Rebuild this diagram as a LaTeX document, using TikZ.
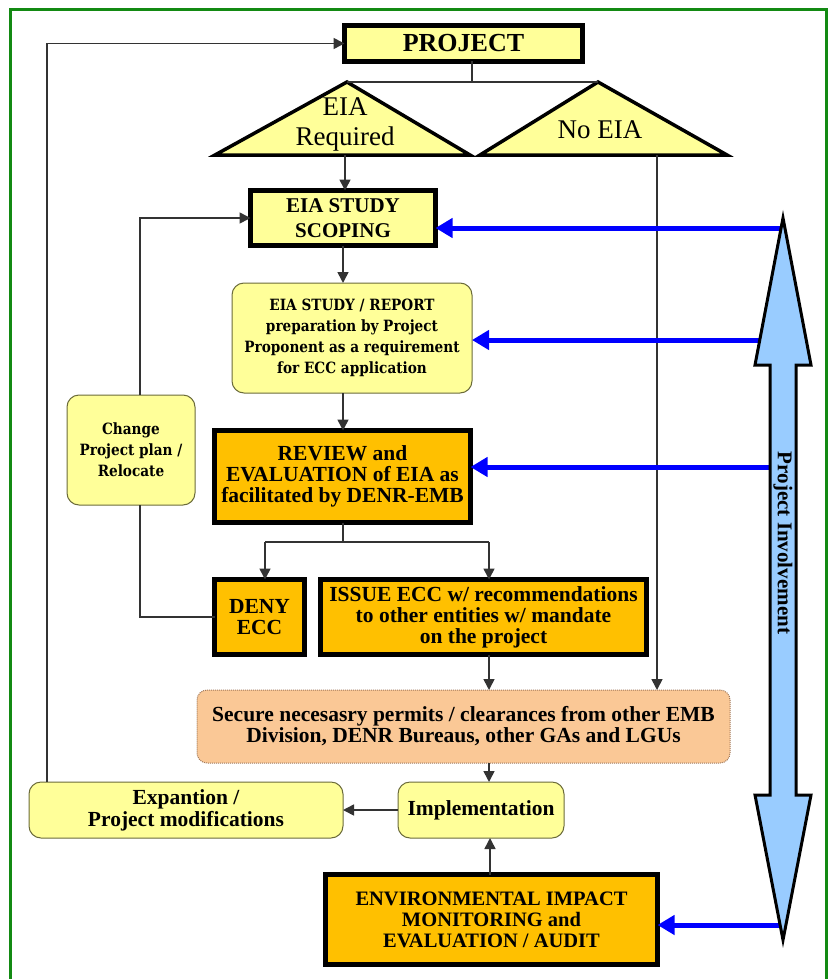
\documentclass[tikz,border=0pt]{standalone}
\usepackage{fontspec}
\setmainfont{Liberation Serif}
\newfontfamily\slab{DejaVu Serif}[FakeStretch=0.88]
\usetikzlibrary{arrows.meta,calc}

\definecolor{paleyellow}{HTML}{FFFF99}
\definecolor{gold}{HTML}{FFC000}
\definecolor{peach}{HTML}{FAC896}
\definecolor{skyblue}{HTML}{99CCFF}
\definecolor{frame}{HTML}{138A13}
\definecolor{wire}{HTML}{333333}
\definecolor{softedge}{HTML}{6B6B3A}
\definecolor{dotedge}{HTML}{A0785A}

\begin{document}
\begin{tikzpicture}[x=1pt,y=-1pt,
  every node/.style={align=center, inner sep=0pt, outer sep=0pt},
  thickbox/.style={draw=black, line width=5pt, fill=paleyellow},
  goldbox/.style={draw=black, line width=5pt, fill=gold},
  softbox/.style={draw=softedge, line width=1pt, rounded corners=12pt, fill=paleyellow},
  dotbox/.style={draw=dotedge, line width=1pt, densely dotted, rounded corners=10pt, fill=peach},
  decision/.style={draw=black, line width=3.5pt, fill=paleyellow, line join=miter},
  bigbold/.style={font=\fontsize{21.5pt}{21pt}\selectfont\bfseries},
  slabtext/.style={font=\slab\fontsize{15.5pt}{21pt}\selectfont\bfseries},
  wireline/.style={draw=wire, line width=1.6pt},
  conn/.style={wireline, -{Triangle[length=11pt,width=11pt]}},
  blueconn/.style={draw=blue, line width=5pt, -{Triangle[length=17pt,width=19pt]}}
]
\useasboundingbox (0,0) rectangle (834,979);

% outer frame
\draw[frame, line width=3pt] (10,990) -- (10,10) -- (826,10) -- (826,990);

% ---- boxes ----
\node[thickbox, minimum width=238pt, minimum height=36pt,
      font=\fontsize{26pt}{26pt}\selectfont\bfseries] (project) at (463.5,43.5) {PROJECT};

\node[thickbox, minimum width=185pt, minimum height=55pt,
      font=\fontsize{21pt}{25pt}\selectfont\bfseries] (scoping) at (343,218) {EIA STUDY\\SCOPING};

\node[softbox, minimum width=240pt, minimum height=110pt, slabtext] (report) at (352,338)
  {EIA STUDY / REPORT\\preparation by Project\\Proponent as a requirement\\for ECC application};

\node[goldbox, minimum width=256pt, minimum height=92pt, bigbold] (review) at (342.5,476.5)
  {REVIEW and\\EVALUATION of EIA as\\facilitated by DENR-EMB};

\node[softbox, minimum width=128pt, minimum height=110pt, slabtext] (change) at (131,450)
  {Change\\Project plan /\\Relocate};

\node[goldbox, minimum width=90pt, minimum height=75pt, bigbold] (deny) at (259.5,617) {DENY\\ECC};

\node[goldbox, minimum width=326pt, minimum height=75pt, bigbold] (issue) at (483.5,617)
  {ISSUE ECC w/ recommendations\\to other entities w/ mandate\\on the project};

\node[dotbox, minimum width=533pt, minimum height=73pt, bigbold] (secure) at (463.5,726.5)
  {Secure necesasry permits / clearances from other EMB\\Division, DENR Bureaus, other GAs and LGUs};

\node[softbox, minimum width=166pt, minimum height=56pt, bigbold] (impl) at (481,810) {Implementation};

\node[softbox, minimum width=314pt, minimum height=56pt,
      font=\fontsize{21.5pt}{22pt}\selectfont\bfseries] (expand) at (186,810)
  {Expantion /\\Project modifications};

\node[goldbox, minimum width=332pt, minimum height=90pt,
      font=\fontsize{20.5pt}{21pt}\selectfont\bfseries] (monitor) at (491.5,919.5)
  {ENVIRONMENTAL IMPACT\\MONITORING and\\EVALUATION / AUDIT};

% ---- decision triangles ----
\coordinate (reqtop) at (347,82);
\coordinate (noeiatop) at (598,82);
\draw[decision] (reqtop) -- (470,155) -- (215,155) -- cycle;
\draw[decision] (noeiatop) -- (727,155) -- (480,155) -- cycle;
\node[font=\fontsize{27pt}{30pt}\selectfont] (reqtext) at (345,124) {EIA\\Required};
\node[font=\fontsize{27pt}{30pt}\selectfont] (noeiatext) at (600,130) {No EIA};
\coordinate (reqbase) at (345,155);
\coordinate (noeiabase) at (657,155);

% ---- connectors ----
\coordinate (split) at (472,82);
\draw[wireline] (project.south -| split) -- (split);
\draw[wireline] (reqtop) -- (noeiatop);
\draw[conn] (reqbase) -- (reqbase |- scoping.north);
\draw[conn] (scoping.south) -- (scoping.south |- report.north);
\draw[conn] (report.south -| scoping.south) -- (scoping.south |- review.north);

\coordinate (fork) at (343,542);
\coordinate (denyx) at (265,542);
\coordinate (issuex) at (489,542);
\draw[wireline] (review.south -| fork) -- (fork);
\draw[wireline] (denyx) -- (issuex);
\draw[conn] (denyx) -- (denyx |- deny.north);
\draw[conn] (issuex) -- (issuex |- issue.north);

\coordinate (loopx) at (140,0);
\draw[wireline] (deny.west) -| (change.south -| loopx);
\draw[conn] (change.north -| loopx) |- (scoping.west);

\draw[conn] (noeiabase) -- (noeiabase |- secure.north);
\draw[conn] (issue.south -| issuex) -- (issuex |- secure.north);
\draw[conn] (secure.south -| issuex) -- (issuex |- impl.north);
\draw[conn] (impl.west) -- (expand.east);
\coordinate (upx) at (490,0);
\draw[conn] (monitor.north -| upx) -- (upx |- impl.south);

\coordinate (backx) at (47,0);
\draw[conn] (expand.north -| backx) |- (project.west);

% ---- project involvement ----
\coordinate (inv1) at (783,228);
\coordinate (inv2) at (762,340);
\coordinate (inv3) at (770,467);
\coordinate (inv4) at (782,925);
\draw[blueconn] (inv1) -- (scoping.east |- inv1);
\draw[blueconn] (inv2) -- (report.east |- inv2);
\draw[blueconn] (inv3) -- (review.east |- inv3);
\draw[blueconn] (inv4) -- (monitor.east |- inv4);

\draw[line width=3pt, fill=skyblue, line join=miter]
  (783,218) -- (811,365) -- (796,365) -- (796,795) -- (811,795) -- (783,940)
  -- (755,795) -- (770,795) -- (770,365) -- (755,365) -- cycle;
\node[rotate=-90, font=\fontsize{21pt}{21pt}\selectfont\bfseries] (involve) at (783,543) {Project Involvement};

\end{tikzpicture}
\end{document}
